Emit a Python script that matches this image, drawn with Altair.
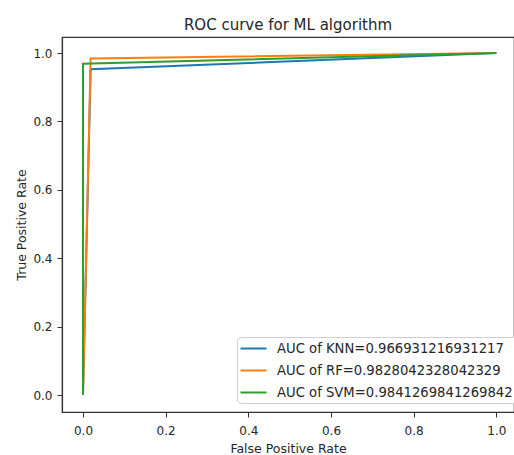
import altair as alt
import pandas as pd

series = [
    "AUC of KNN=0.966931216931217",
    "AUC of RF=0.9828042328042329",
    "AUC of SVM=0.9841269841269842",
]
fpr_knn = [0.0, 0.0185, 1.0]
tpr_knn = [0.0, 0.9524, 1.0]
fpr_rf = [0.0, 0.0185, 1.0]
tpr_rf = [0.0, 0.9841, 1.0]
fpr_svm = [0.0, 0.0, 1.0]
tpr_svm = [0.0, 0.9683, 1.0]
colors = ["#1f77b4", "#ff7f0e", "#2ca02c"]
x_ticks = [0.0, 0.2, 0.4, 0.6, 0.8, 1.0]
y_ticks = [0.0, 0.2, 0.4, 0.6, 0.8, 1.0]

rows = []
for name, fx, ty in zip(series, [fpr_knn, fpr_rf, fpr_svm], [tpr_knn, tpr_rf, tpr_svm]):
    for i, (a, b) in enumerate(zip(fx, ty)):
        rows.append({"series": name, "fpr": a, "tpr": b, "step": i})
df = pd.DataFrame(rows)

FONT = "DejaVu Sans"
TXT = "#262626"

chart = alt.Chart(df).mark_line(strokeWidth=2).encode(
    x=alt.X(
        "fpr:Q",
        scale=alt.Scale(domain=[-0.0508, 1.0428], nice=False, zero=False),
        axis=alt.Axis(values=x_ticks, format=".1f", title="False Positive Rate",
                      grid=False, tickSize=5, labelPadding=8, titlePadding=6,
                      labelFontSize=12, titleFontSize=12.5, labelFlush=False),
    ),
    y=alt.Y(
        "tpr:Q",
        scale=alt.Scale(domain=[-0.0497, 1.0468], nice=False, zero=False),
        axis=alt.Axis(values=y_ticks, format=".1f", title="True Positive Rate",
                      grid=False, tickSize=5, labelPadding=5, titlePadding=4,
                      labelFontSize=12, titleFontSize=12.5, labelFlush=False),
    ),
    color=alt.Color(
        "series:N",
        scale=alt.Scale(domain=series, range=colors),
        legend=alt.Legend(
            title=None, orient="none", legendX=175, legendY=300,
            fillColor="white", strokeColor="#d0d0d0", cornerRadius=4,
            padding=4, labelFontSize=13.2, labelFont=FONT, labelColor=TXT,
            symbolType="M-2,0H2", symbolSize=169, symbolStrokeWidth=2,
            symbolOffset=5, labelOffset=16, rowPadding=8, labelLimit=400,
        ),
    ),
    order="step:O",
).properties(
    width=452,
    height=375,
    autosize=alt.AutoSizeParams(type="none"),
    padding={"left": 62, "top": 37, "right": 0, "bottom": 43},
    title=alt.TitleParams("ROC curve for ML algorithm", fontSize=15, font=FONT,
                          fontWeight="normal", anchor="middle", offset=4, color=TXT),
).configure_view(
    stroke="#333333", strokeWidth=1.2
).configure_axis(
    domainColor="#333333", tickColor="#333333", labelColor=TXT, titleColor=TXT,
    labelFont=FONT, titleFont=FONT, titleFontWeight="normal", domainWidth=1.2,
)

chart.save("out.html", embed_options={"renderer": "svg", "actions": False})
